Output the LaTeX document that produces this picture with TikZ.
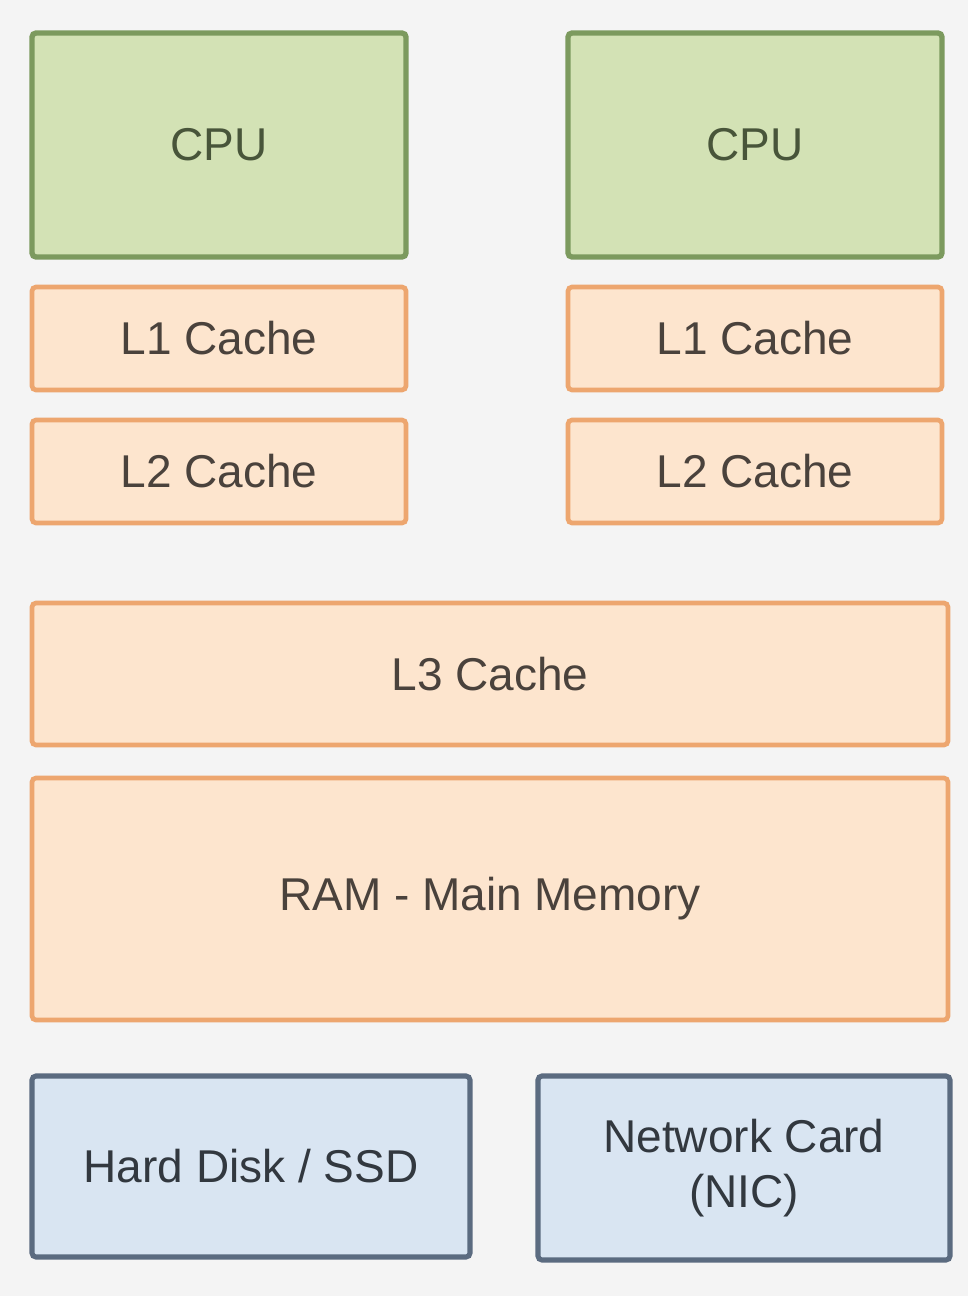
\documentclass[tikz,border=0pt]{standalone}
\usepackage{fontspec}
\setmainfont{Liberation Sans}
\definecolor{bg}{HTML}{F4F4F4}
\definecolor{gfill}{HTML}{D3E2B5}
\definecolor{gline}{HTML}{7C9A5E}
\definecolor{gtext}{HTML}{48553A}
\definecolor{ofill}{HTML}{FDE5CE}
\definecolor{oline}{HTML}{EDA66F}
\definecolor{otext}{HTML}{4A423C}
\definecolor{bfill}{HTML}{D9E5F2}
\definecolor{bline}{HTML}{5B6B80}
\definecolor{btext}{HTML}{32383F}
\begin{document}
\begin{tikzpicture}[x=0.75pt,y=-0.75pt,
  box/.style={rectangle, rounded corners=3pt, inner sep=0pt, align=center,
    font=\fontsize{34.5}{41}\selectfont},
  green/.style={box, fill=gfill, draw=gline, line width=4pt, text=gtext},
  orange/.style={box, fill=ofill, draw=oline, line width=3.5pt, text=otext},
  blue/.style={box, fill=bfill, draw=bline, line width=3.8pt, text=btext}]
\fill[bg] (0,0) rectangle (968,1296);
\useasboundingbox (0,0) rectangle (968,1296);
\node[green, minimum width=280.5pt, minimum height=168pt] (cpu1) at (219,145) {CPU};
\node[green, minimum width=280.5pt, minimum height=168pt] (cpu2) at (755,145) {CPU};
\node[orange, minimum width=280.5pt, minimum height=77.25pt] (l1a) at (219,338.5) {L1 Cache};
\node[orange, minimum width=280.5pt, minimum height=77.25pt] (l1b) at (755,338.5) {L1 Cache};
\node[orange, minimum width=280.5pt, minimum height=77.25pt] (l2a) at (219,471.5) {L2 Cache};
\node[orange, minimum width=280.5pt, minimum height=77.25pt] (l2b) at (755,471.5) {L2 Cache};
\node[orange, minimum width=687pt, minimum height=106.5pt] (l3) at (490,674) {L3 Cache};
\node[orange, minimum width=687pt, minimum height=181.5pt] (ram) at (490,899) {RAM - Main Memory};
\node[blue, minimum width=328.5pt, minimum height=135.75pt] (hdd) at (251,1166.5) {Hard Disk / SSD};
\node[blue, minimum width=309pt, minimum height=138pt] (nic) at (744,1168) {Network Card\\(NIC)};
\end{tikzpicture}
\end{document}
